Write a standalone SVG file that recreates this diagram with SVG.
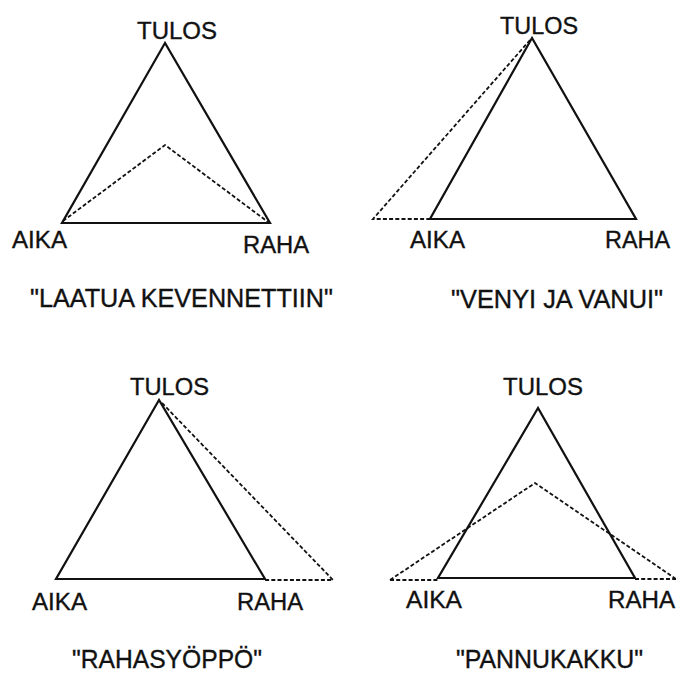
<svg xmlns="http://www.w3.org/2000/svg" width="676" height="673" viewBox="0 0 676 673">
<style>
  text { font-family: "Liberation Sans", Arial, Helvetica, sans-serif; fill: #111; stroke: #111; stroke-width: 0.35; }
  .lbl { font-size: 23px; }
  .cap { font-size: 25px; }
  .tri { fill: none; stroke: #111; stroke-width: 2.2; stroke-linejoin: miter; }
  .dash { fill: none; stroke: #111; stroke-width: 1.8; stroke-dasharray: 4 2.2; }
</style>
<rect width="676" height="673" fill="#fff"/>

<!-- Panel 1 -->
<g id="panel1">
  <g id="p1-connectors">
    <polygon class="tri" points="165,43 62,223 270,223"/>
    <polyline class="dash" points="63,221 165,145 268,222"/>
  </g>
  <g id="p1-tulos"><text class="lbl" x="137" y="38.5" textLength="80" lengthAdjust="spacingAndGlyphs">TULOS</text></g>
  <g id="p1-aika"><text class="lbl" x="12" y="248" textLength="55" lengthAdjust="spacingAndGlyphs">AIKA</text></g>
  <g id="p1-raha"><text class="lbl" x="243" y="253" textLength="66" lengthAdjust="spacingAndGlyphs">RAHA</text></g>
  <g id="p1-caption"><text class="cap" x="30" y="306.5" textLength="303" lengthAdjust="spacingAndGlyphs">"LAATUA KEVENNETTIIN"</text></g>
</g>

<!-- Panel 2 -->
<g id="panel2">
  <g id="p2-connectors">
    <polygon class="tri" points="532,38 430,219 636,219"/>
    <polyline class="dash" points="530,40 373,219 430,219"/>
  </g>
  <g id="p2-tulos"><text class="lbl" x="500" y="33.5" textLength="78" lengthAdjust="spacingAndGlyphs">TULOS</text></g>
  <g id="p2-aika"><text class="lbl" x="410" y="247.5" textLength="55" lengthAdjust="spacingAndGlyphs">AIKA</text></g>
  <g id="p2-raha"><text class="lbl" x="605" y="247.5" textLength="65" lengthAdjust="spacingAndGlyphs">RAHA</text></g>
  <g id="p2-caption"><text class="cap" x="451" y="307.5" textLength="212" lengthAdjust="spacingAndGlyphs">"VENYI JA VANUI"</text></g>
</g>

<!-- Panel 3 -->
<g id="panel3">
  <g id="p3-connectors">
    <polygon class="tri" points="159,400 56,579 265,579"/>
    <polyline class="dash" points="162,403 333,580 265,580"/>
  </g>
  <g id="p3-tulos"><text class="lbl" x="130" y="395" textLength="79" lengthAdjust="spacingAndGlyphs">TULOS</text></g>
  <g id="p3-aika"><text class="lbl" x="32" y="610" textLength="55" lengthAdjust="spacingAndGlyphs">AIKA</text></g>
  <g id="p3-raha"><text class="lbl" x="237" y="610" textLength="66" lengthAdjust="spacingAndGlyphs">RAHA</text></g>
  <g id="p3-caption"><text class="cap" x="72" y="668" textLength="190" lengthAdjust="spacingAndGlyphs">"RAHASYÖPPÖ"</text></g>
</g>

<!-- Panel 4 -->
<g id="panel4">
  <g id="p4-connectors">
    <polygon class="tri" points="538,408 438,578 635,578"/>
    <polyline class="dash" points="390,580 535,483 676,579"/>
    <line class="dash" x1="390" y1="580" x2="438" y2="580"/>
    <line class="dash" x1="635" y1="579" x2="676" y2="579"/>
  </g>
  <g id="p4-tulos"><text class="lbl" x="503" y="395" textLength="80" lengthAdjust="spacingAndGlyphs">TULOS</text></g>
  <g id="p4-aika"><text class="lbl" x="406" y="608" textLength="56" lengthAdjust="spacingAndGlyphs">AIKA</text></g>
  <g id="p4-raha"><text class="lbl" x="608" y="608" textLength="67" lengthAdjust="spacingAndGlyphs">RAHA</text></g>
  <g id="p4-caption"><text class="cap" x="456" y="668" textLength="187" lengthAdjust="spacingAndGlyphs">"PANNUKAKKU"</text></g>
</g>
</svg>
